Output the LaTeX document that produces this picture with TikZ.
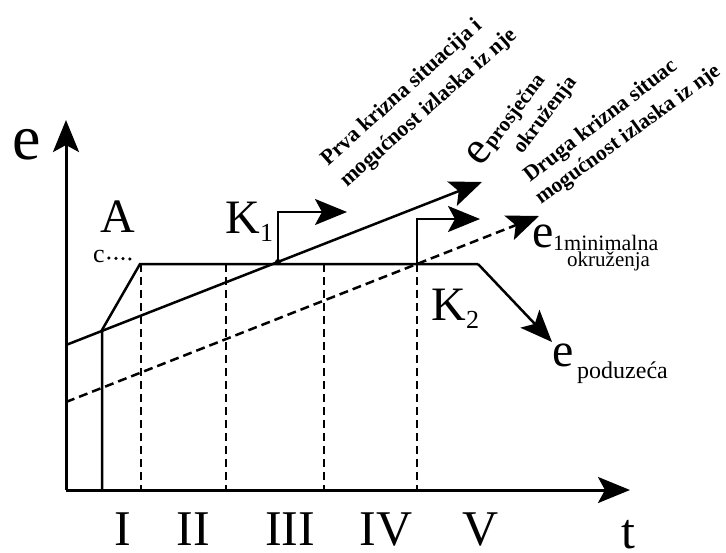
\documentclass[tikz,border=0pt]{standalone}
\usepackage{fontspec}
\setmainfont{Liberation Serif}
\usetikzlibrary{arrows.meta}
\newcommand{\fsz}[1]{\fontsize{#1}{#1}\selectfont}

\begin{document}
\begin{tikzpicture}[x=1pt,y=-1pt,
    >={Stealth[length=32pt,width=26pt,inset=7pt]},
    axis/.style={line width=3pt},
    trend/.style={line width=2.5pt},
    guide/.style={line width=1.4pt,dash pattern=on 8pt off 5pt},
    slant/.style={font=\fsz{22}\bfseries,anchor=base west,inner sep=0pt}]
    \useasboundingbox (0,0) rectangle (726,552);
    % axes
    \coordinate (O) at (66,490);
    \coordinate (ytop) at (66,120);
    \coordinate (xend) at (630,490);
    \draw[axis,->] (O) -- (ytop);
    \draw[axis,->] (O) -- (xend);
    \node (elab) at (27,145) {\fsz{64}e};
    \node (tlab) [anchor=base,inner sep=0pt] at (628,548) {\fsz{50}t};
    % phases
    \foreach \x/\r in {123/I,193/II,290/III,386/IV,481/V} {
        \node (ph\r) [anchor=base,inner sep=0pt] at (\x,545) {\fsz{50}\r};
    }
    \foreach \x in {141,226,324,417} {
        \draw[guide] (\x,264) -- (\x,490);
    }
    % company
    \coordinate (p0) at (102,490);
    \coordinate (p1) at (102,330);
    \coordinate (p2) at (140,264);
    \coordinate (p3) at (478,264);
    \coordinate (p4) at (552,342);
    \draw[trend] (p0) -- (p1) -- (p2) -- (p3);
    \draw[trend,->] (p3) -- (p4);
    % average environment
    \coordinate (a0) at (66,345);
    \coordinate (a1) at (482,182);
    \draw[trend,->] (a0) -- (a1);
    % minimal environment
    \coordinate (m0) at (66,402);
    \coordinate (m1) at (539,216);
    \draw[trend,->,dash pattern=on 9pt off 5pt] (m0) -- (m1);
    % crises
    \coordinate (k1) at (278,262);
    \coordinate (k1top) at (278,212);
    \coordinate (k1end) at (347,212);
    \fill (k1) circle (3);
    \draw[trend,->] (k1) -- (k1top) -- (k1end);
    \coordinate (k2) at (417,264);
    \coordinate (k2top) at (417,219);
    \coordinate (k2end) at (480,219);
    \draw[trend,->] (k2) -- (k2top) -- (k2end);
    % start point
    \node (c) [inner sep=1pt] at (99,256) {\fsz{26}c};
    \draw[line width=3.5pt,line cap=round,dash pattern=on 0pt off 7pt] (c.east) ++(3,2) -- (131,259);
    % labels
    \node (A) [anchor=base] at (118,232) {\fsz{48}A};
    \node (K1) [anchor=base west] at (222,233) {\fsz{48}K\raisebox{-8pt}{\fsz{26}1}};
    \node (K2) [anchor=base west] at (428,320) {\fsz{48}K\raisebox{-8pt}{\fsz{26}2}};
    \node (emin) at (543,236) {\fsz{48}e};
    \node (emin1) [anchor=base west,inner sep=0pt] at (553,250) {\fsz{22}1minimalna};
    \node (emin2) [anchor=base west,inner sep=0pt] at (567,266) {\fsz{21}okruženja};
    \node (epod) at (563,355) {\fsz{48}e};
    \node (epod1) [anchor=base west,inner sep=0pt] at (577,378) {\fsz{24}poduzeća};
    \node (epro) [rotate=50] at (479,153) {\fsz{46}e};
    \node (epro1) [slant,rotate=53] at (493,150) {\fsz{21}prosječna};
    \node (epro2) [slant,rotate=53] at (522,155) {\fsz{21}okruženja};
    \node (kr1a) [slant,rotate=42] at (328,167) {Prva krizna situacija i};
    \node (kr1b) [slant,rotate=41.6] at (347,188) {mogućnost izlaska iz nje};
    \node (kr2a) [slant,rotate=37.7] at (530,183) {Druga krizna situac};
    \node (kr2b) [slant,rotate=36] at (541,205) {\fsz{21.5}mogućnost izlaska iz nje};
\end{tikzpicture}
\end{document}
